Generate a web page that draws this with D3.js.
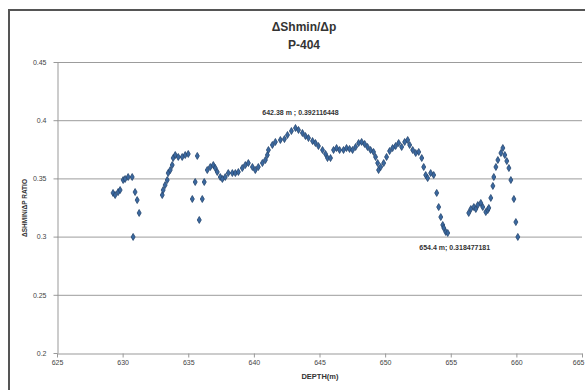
<!DOCTYPE html>
<html><head><meta charset="utf-8">
<script src="https://cdn.jsdelivr.net/npm/d3@7"></script>
<style>body{margin:0;background:#fff}svg{display:block}</style>
</head><body>
<script>
const depth = [629.27,629.43,629.66,629.81,630.04,630.19,630.42,630.73,630.80,630.95,631.11,631.26,
633.02,633.09,633.24,633.40,633.47,633.63,633.78,633.85,634.01,634.24,634.54,634.77,635.00,
635.31,635.53,635.69,635.84,636.07,636.22,636.45,636.68,636.91,637.06,637.21,637.44,637.60,637.82,
638.05,638.36,638.59,638.82,639.12,639.35,639.58,639.89,640.11,640.34,640.65,640.88,641.03,641.11,
641.41,641.64,642.02,642.33,642.56,642.86,643.17,643.40,643.70,643.93,644.16,644.47,644.69,644.92,
645.23,645.46,645.61,645.84,646.07,646.30,646.53,646.83,647.06,647.29,647.52,647.75,647.98,648.21,
648.44,648.66,648.89,649.12,649.27,649.43,649.50,649.66,649.89,650.11,650.34,650.57,650.80,651.03,
651.26,651.49,651.72,651.87,652.10,652.33,652.56,652.79,652.94,653.09,653.24,653.47,653.70,653.93,
654.08,654.24,654.39,654.47,654.62,654.77,656.37,656.53,656.76,656.91,657.06,657.29,657.44,657.67,
657.82,657.90,658.05,658.21,658.28,658.44,658.59,658.82,658.97,659.12,659.27,659.43,659.58,659.81,
659.96,660.11];
const ratio = [0.3375,0.3357,0.3383,0.3400,0.3486,0.3495,0.3512,0.3512,0.2997,0.3383,0.3314,0.3203,
0.3357,0.3400,0.3443,0.3486,0.3546,0.3572,0.3615,0.3675,0.3701,0.3684,0.3684,0.3701,0.3710,
0.3323,0.3469,0.3693,0.3143,0.3323,0.3469,0.3572,0.3598,0.3615,0.3589,0.3555,0.3512,0.3495,0.3512,
0.3546,0.3546,0.3546,0.3555,0.3589,0.3615,0.3632,0.3598,0.3572,0.3598,0.3632,0.3658,0.3701,0.3744,
0.3787,0.3813,0.3830,0.3838,0.3873,0.3907,0.3933,0.3916,0.3890,0.3864,0.3847,0.3821,0.3804,0.3778,
0.3744,0.3710,0.3675,0.3675,0.3744,0.3761,0.3744,0.3744,0.3761,0.3753,0.3744,0.3770,0.3804,0.3813,
0.3796,0.3770,0.3744,0.3727,0.3684,0.3632,0.3572,0.3598,0.3632,0.3684,0.3735,0.3761,0.3778,0.3804,
0.3770,0.3813,0.3830,0.3787,0.3744,0.3718,0.3727,0.3675,0.3598,0.3529,0.3503,0.3546,0.3529,0.3375,
0.3254,0.3168,0.3100,0.3074,0.3040,0.3031,0.3203,0.3237,0.3254,0.3237,0.3271,0.3289,0.3254,0.3211,
0.3228,0.3246,0.3332,0.3435,0.3512,0.3598,0.3658,0.3718,0.3761,0.3701,0.3649,0.3589,0.3486,0.3323,
0.3125,0.2997];
const xTicks = [625,630,635,640,645,650,655,660,665];
const yTicks = [0.2,0.25,0.3,0.35,0.4,0.45];
const yTickLabels = ["0.2","0.25","0.3","0.35","0.4","0.45"];
const titleLines = ["ΔShmin/Δp","P-404"];
const xTitle = "DEPTH(m)";
const yTitle = "ΔSHMIN/ΔP RATIO";
const maxLabel = "642.38 m ; 0.392116448";
const minLabel = "654.4 m; 0.318477181";

const W = 585, H = 390;
const svg = d3.select("body").append("svg").attr("width", W).attr("height", H);
svg.append("rect").attr("x",0).attr("y",0).attr("width",W).attr("height",H).attr("fill","#fff");
svg.append("path").attr("d","M9,390 V10 H585").attr("fill","none").attr("stroke","#555").attr("stroke-width",2);

const x = d3.scaleLinear().domain([625,665]).range([57,582]);
const y = d3.scaleLinear().domain([0.2,0.45]).range([353,62]);

svg.append("g").selectAll("line").data(yTicks.slice(1)).join("line")
  .attr("x1",57).attr("x2",582).attr("y1",d=>y(d)+0.5).attr("y2",d=>y(d)+0.5)
  .attr("stroke","#9c9c9c").attr("stroke-width",1);

const font = "'Liberation Sans', Arial, sans-serif";
const yAxis = svg.append("g").attr("transform","translate(57.5,0)")
  .call(d3.axisLeft(y).tickValues(yTicks).tickFormat((d,i)=>yTickLabels[i]).tickSize(4).tickSizeOuter(0));
yAxis.selectAll("path,line").attr("stroke","#999");
yAxis.selectAll("text").attr("font-family",font).attr("font-size",7).attr("fill","#444").attr("dx",-4);

const xAxis = svg.append("g").attr("transform","translate(0,353.5)")
  .call(d3.axisBottom(x).tickValues(xTicks).tickFormat(d3.format("d")).tickSize(4).tickSizeOuter(0));
xAxis.selectAll("path,line").attr("stroke","#999");
xAxis.selectAll("text").attr("font-family",font).attr("font-size",7).attr("fill","#444").attr("dy",4);
xAxis.selectAll("text").filter(d=>d===665).attr("text-anchor","end").attr("dx",2);

svg.append("g").selectAll("text").data(titleLines).join("text")
  .attr("x",304).attr("y",(d,i)=>31+i*18).attr("text-anchor","middle")
  .attr("font-family",font).attr("font-weight","bold").attr("font-size",12).attr("fill","#333").text(d=>d);
svg.append("text").attr("x",320).attr("y",379).attr("text-anchor","middle")
  .attr("font-family",font).attr("font-weight","bold").attr("font-size",7.5).attr("fill","#333").text(xTitle);
svg.append("text").attr("transform","translate(27,208) rotate(-90)").attr("text-anchor","middle")
  .attr("font-family",font).attr("font-weight","bold").attr("font-size",6.5).attr("fill","#333").text(yTitle);

const pts = depth.map((d,i)=>({d, v: ratio[i]}));
svg.append("g").selectAll("path").data(pts).join("path")
  .attr("transform",p=>`translate(${x(p.d)},${y(p.v)})`)
  .attr("d", d3.symbol().type(d3.symbolDiamond).size(14))
  .attr("fill","#3a68a0").attr("stroke","#26466f").attr("stroke-width",0.8);

const iMax = d3.maxIndex(ratio), iMin = 114;
svg.append("text").attr("x",x(depth[iMax])+5).attr("y",y(ratio[iMax])-13).attr("text-anchor","middle")
  .attr("font-family",font).attr("font-weight","bold").attr("font-size",7).attr("fill","#333").text(maxLabel);
svg.append("text").attr("x",x(depth[iMin])+7).attr("y",y(ratio[iMin])+17).attr("text-anchor","middle")
  .attr("font-family",font).attr("font-weight","bold").attr("font-size",7).attr("fill","#333").text(minLabel);
</script>
</body></html>
